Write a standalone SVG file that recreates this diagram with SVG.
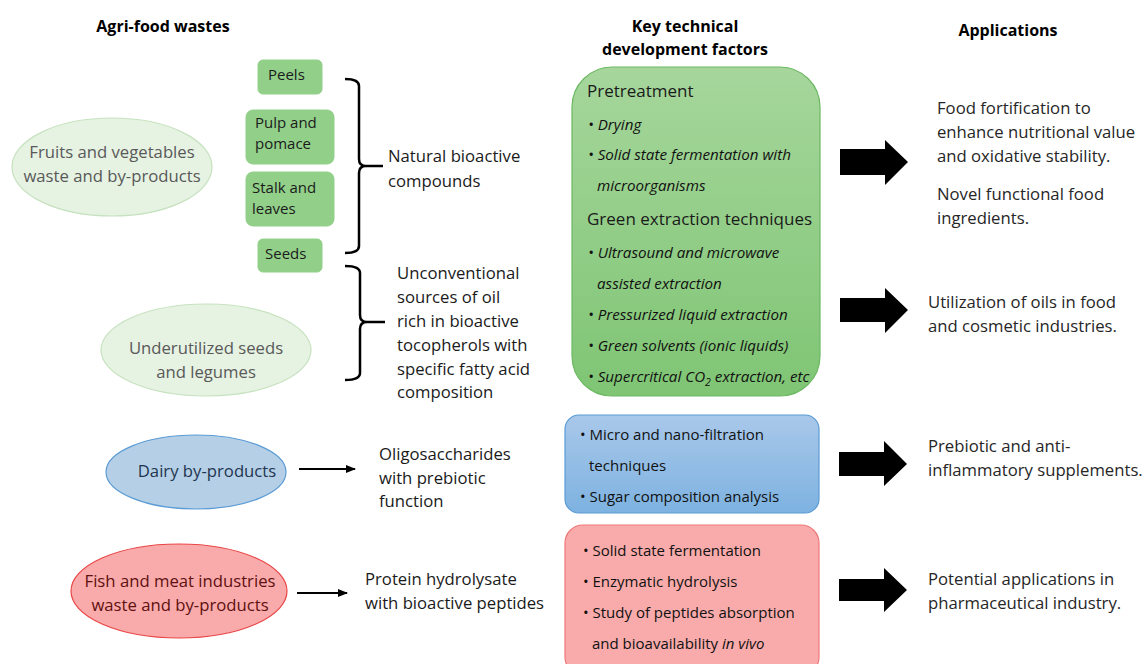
<svg xmlns="http://www.w3.org/2000/svg" width="1148" height="664" viewBox="0 0 1148 664">
<defs>
<linearGradient id="gG" x1="0" y1="0" x2="0" y2="1"><stop offset="0" stop-color="#a6d69c"/><stop offset="1" stop-color="#7fc574"/></linearGradient>
<linearGradient id="gB" x1="0" y1="0" x2="0" y2="1"><stop offset="0" stop-color="#a9c8ea"/><stop offset="1" stop-color="#7db2e0"/></linearGradient>
<marker id="ah" viewBox="0 0 10 10" refX="9" refY="5" markerWidth="5" markerHeight="5" orient="auto"><path d="M0,1 L10,5 L0,9 Z" fill="#000"/></marker>
<style>
text{font-family:"Open Sans","Liberation Sans",sans-serif;}
.h{font-weight:bold;font-size:16px;fill:#000;text-anchor:middle}
.t{font-size:16.7px;fill:#1a1a1a}
.a{font-size:16.7px;fill:#262626}
.e{font-size:16.7px;text-anchor:middle}
.s{font-size:15px;fill:#1a1a1a}
.i{font-size:15.2px;font-style:italic;fill:#111}
.b{font-size:15px;fill:#111}
.g{font-size:17px;fill:#1a1a1a}
.sb{fill:#92d08a;stroke:#92d08a}
.br{fill:none;stroke:#000;stroke-width:2.5}
.big{fill:#000}
</style>
</defs>
<rect width="1148" height="664" fill="#fff"/>
<g id="headers">
<text class="h" x="163" y="32">Agri-food  wastes</text>
<text class="h" x="685" y="32">Key technical</text>
<text class="h" x="685" y="55">development factors</text>
<text class="h" x="1008" y="36">Applications</text>
</g>
<g id="fruits">
<ellipse cx="112" cy="167" rx="100" ry="49" fill="#e6f2e2" stroke="#c6e2bf" stroke-width="1.2"/>
<text class="e" x="112" y="158" style="fill:#595959">Fruits and vegetables</text>
<text class="e" x="112" y="182" style="fill:#595959">waste and by-products</text>
</g>
<g id="peels"><rect class="sb" x="258" y="60" width="64" height="34" rx="5"/><text class="s" x="268" y="80">Peels</text></g>
<g id="pulp"><rect class="sb" x="246" y="110" width="88" height="54" rx="7"/><text class="s" x="255" y="128">Pulp and</text><text class="s" x="255" y="149">pomace</text></g>
<g id="stalk"><rect class="sb" x="246" y="172" width="88" height="54" rx="7"/><text class="s" x="252" y="193">Stalk and</text><text class="s" x="252" y="214">leaves</text></g>
<g id="seeds"><rect class="sb" x="258" y="239" width="64" height="33" rx="5"/><text class="s" x="265" y="259">Seeds</text></g>
<g id="seedsLegumes">
<ellipse cx="206" cy="350" rx="105" ry="46" fill="#e6f2e2" stroke="#c6e2bf" stroke-width="1.2"/>
<text class="e" x="206" y="354" style="fill:#595959">Underutilized seeds</text>
<text class="e" x="206" y="378" style="fill:#595959">and legumes</text>
</g>
<g id="dairy">
<ellipse cx="196" cy="472" rx="90" ry="37" fill="#b5d0e6" stroke="#5b9bd5" stroke-width="1.2"/>
<text class="e" x="207" y="477" style="fill:#1f3550">Dairy by-products</text>
</g>
<g id="fish">
<ellipse cx="179" cy="591" rx="108" ry="47" fill="#f9abab" stroke="#e84545" stroke-width="1.2"/>
<text class="e" x="180" y="587" style="fill:#5e1010">Fish and meat industries</text>
<text class="e" x="180" y="611" style="fill:#5e1010">waste and by-products</text>
</g>
<g id="natural"><text class="t" x="388" y="162">Natural bioactive</text><text class="t" x="388" y="187">compounds</text></g>
<g id="oil">
<text class="t" x="397" y="279">Unconventional</text>
<text class="t" x="397" y="303">sources of oil</text>
<text class="t" x="397" y="327">rich in bioactive</text>
<text class="t" x="397" y="351">tocopherols with</text>
<text class="t" x="397" y="375">specific fatty acid</text>
<text class="t" x="397" y="398">composition</text>
</g>
<g id="oligo"><text class="t" x="379" y="460">Oligosaccharides</text><text class="t" x="379" y="484">with prebiotic</text><text class="t" x="379" y="507">function</text></g>
<g id="protein"><text class="t" x="365" y="585">Protein hydrolysate</text><text class="t" x="365" y="609">with bioactive peptides</text></g>
<g id="greenFactors">
<rect x="572" y="67" width="248" height="329" rx="40" fill="url(#gG)" stroke="#6cb862" stroke-width="1.2"/>
<text class="g" x="587" y="97">Pretreatment</text>
<text class="i" x="588" y="130">• Drying</text>
<text class="i" x="588" y="160">• Solid state fermentation with</text>
<text class="i" x="597" y="191">microorganisms</text>
<text class="g" x="587" y="225">Green extraction techniques</text>
<text class="i" x="588" y="258">• Ultrasound and microwave</text>
<text class="i" x="597" y="289">assisted extraction</text>
<text class="i" x="588" y="320">• Pressurized liquid extraction</text>
<text class="i" x="588" y="351">• Green solvents (ionic liquids)</text>
<text class="i" x="588" y="382">• Supercritical CO<tspan font-size="10.5" dy="4">2</tspan><tspan dy="-4"> extraction, etc</tspan></text>
</g>
<g id="blueFactors">
<rect x="565" y="415" width="254" height="98" rx="14" fill="url(#gB)" stroke="#5b9bd5" stroke-width="1.2"/>
<text class="b" x="580" y="440">• Micro and nano-filtration</text>
<text class="b" x="589" y="471">techniques</text>
<text class="b" x="580" y="502">• Sugar composition analysis</text>
</g>
<g id="redFactors">
<rect x="565" y="525" width="254" height="150" rx="18" fill="#f9abab" stroke="#f07878" stroke-width="1.2"/>
<text class="b" x="583" y="556">• Solid state fermentation</text>
<text class="b" x="583" y="587">• Enzymatic hydrolysis</text>
<text class="b" x="583" y="618">• Study of peptides absorption</text>
<text class="b" x="592" y="649">and bioavailability <tspan font-style="italic">in vivo</tspan></text>
</g>
<g id="app1"><text class="a" x="937" y="114">Food fortification to</text><text class="a" x="937" y="138">enhance nutritional value</text><text class="a" x="937" y="162">and oxidative stability.</text><text class="a" x="937" y="200">Novel functional food</text><text class="a" x="937" y="224">ingredients.</text></g>
<g id="app2"><text class="a" x="928" y="308">Utilization of oils in food</text><text class="a" x="928" y="332">and cosmetic industries.</text></g>
<g id="app3"><text class="a" x="928" y="452">Prebiotic and anti-</text><text class="a" x="928" y="476">inflammatory supplements.</text></g>
<g id="app4"><text class="a" x="928" y="585">Potential applications in</text><text class="a" x="928" y="609">pharmaceutical industry.</text></g>
<g id="connectors">
<path class="br" d="M345,79 Q359,79 359,86 L359,159 Q359,166 366,166 L383,166 M366,166 Q359,166 359,173 L359,246 Q359,253 345,253"/>
<path class="br" d="M345,266 Q360,266 360,273 L360,315 Q360,322 367,322 L385,322 M367,322 Q360,322 360,329 L360,373 Q360,380 345,380"/>
<line x1="299" y1="469" x2="355" y2="469" stroke="#000" stroke-width="2" marker-end="url(#ah)"/>
<line x1="297" y1="593" x2="347" y2="593" stroke="#000" stroke-width="2" marker-end="url(#ah)"/>
<path class="big" d="M840,149 L885,149 L885,140 L908,162 L885,185 L885,175 L840,175 Z"/>
<path class="big" d="M840,298 L885,298 L885,288 L908,310 L885,333 L885,322 L840,322 Z"/>
<path class="big" d="M839,452 L884,452 L884,441 L907,464 L884,486 L884,476 L839,476 Z"/>
<path class="big" d="M839,579 L884,579 L884,568 L907,590 L884,612 L884,601 L839,601 Z"/>
</g>
</svg>
